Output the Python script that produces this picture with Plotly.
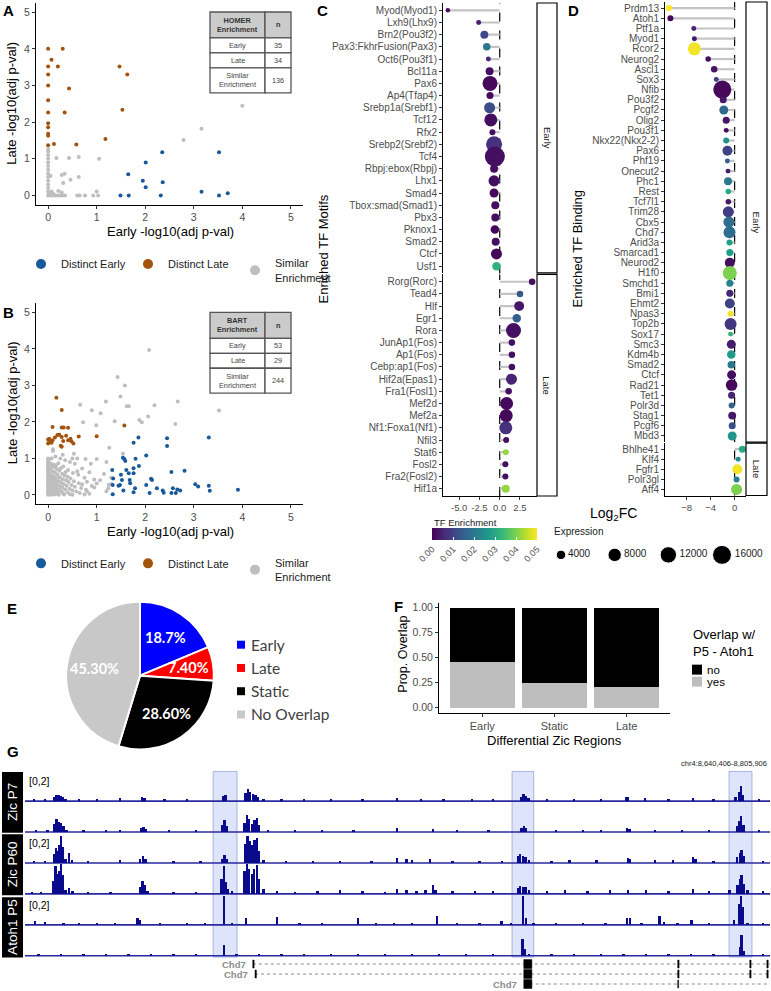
import plotly.graph_objects as go
import numpy as np

# ======================= DATA =======================
# ---- Panel A (HOMER): -log10 adj p-values
a_early_x = [2.35, 3.52, 2.01, 1.65, 1.95, 2.36, 2.01, 1.49, 1.66, 2.32, 3.16, 3.52, 3.70]
a_early_y = [1.18, 1.18, 0.90, 0.58, 0.40, 0.36, 0.22, 0.0, 0.0, 0.0, 0.10, 0.0, 0.06]
a_late_x = [0, 0.30, 0.07, 0, 0.20, 0, 0, 0.43, 0, 0, 0.34, 0, 0, 0, 0, 0.12, 0, 0.58, 1.47, 1.63, 1.53, 1.18]
a_late_y = [4.0, 4.0, 3.7, 3.52, 3.52, 3.3, 3.0, 2.92, 2.6, 2.26, 2.26, 1.97, 1.86, 1.68, 1.63, 1.40, 1.37, 1.39, 3.52, 3.3, 2.34, 1.54]
a_sim_x = [0, 0, 0, 0, 0, 0, 0, 0, 0, 0, 0, 0, 0, 0,
           0.05, 0.10, 0.15, 0.20, 0.25, 0.30, 0.35, 0.60, 0.65, 0.76, 0.93, 1.03,
           0.05, 0.34, 0.28, 0.46, 0.63, 0.31, 0.07, 0.21, 0.28, 1.00,
           0.17, 0.43, 0.63, 1.05, 2.79, 3.16, 4.00, 0.02, 0.10, 0.12]
a_sim_y = [1.27, 1.2, 1.1, 1.0, 0.9, 0.8, 0.7, 0.6, 0.5, 0.4, 0.3, 0.2, 0.1, 0.0,
           0, 0, 0, 0, 0, 0, 0, 0, 0, 0, 0, 0,
           0.53, 0.59, 0.56, 0.43, 0.50, 0.34, 0.11, 0.12, 0.08, 0.11,
           1.02, 1.02, 1.05, 1.00, 1.51, 1.82, 2.45, 0.05, 0.05, 0.02]

# ---- Panel B (BART)
b_early_x = [1.86, 1.76, 2.45, 2.45, 3.31, 1.57, 1.59, 1.54, 1.80, 2.02, 1.87, 1.76, 1.61, 1.32, 2.54,
             2.81, 1.34, 1.50, 1.66, 1.76, 1.33, 1.48, 1.45, 1.52, 1.68, 1.69, 2.12, 2.14, 2.02, 2.24,
             2.36, 2.57, 2.66, 2.72, 3.03, 3.09, 3.31, 3.33, 3.91, 1.33, 1.55, 1.79, 2.09, 2.38, 2.54,
             2.63, 1.76]
b_early_y = [1.57, 1.43, 1.55, 1.34, 1.57, 0.98, 0.93, 1.02, 0.99, 1.08, 0.79, 0.73, 0.68, 0.68, 0.63,
             0.66, 0.45, 0.55, 0.59, 0.59, 0.27, 0.27, 0.25, 0.41, 0.41, 0.32, 0.44, 0.41, 0.27, 0.18,
             0.12, 0.18, 0.15, 0.12, 0.29, 0.23, 0.25, 0.11, 0.14, 0.02, 0.12, 0.18, 0.05, 0.06, 0.05,
             0.05, 0.07]
b_late_x = [0.17, 0.28, 0.09, 0.28, 0.32, 0.41, 1.00, 1.57, 0.63, 0, 0.03, 0, 0.09, 0.14, 0.19, 0.23,
            0.28, 0.31, 0.37, 0.41, 0.46, 0.48, 0.52, 0.26, 0.28, 0.02, 0.07]
b_late_y = [2.66, 2.33, 1.86, 1.85, 1.85, 1.84, 1.61, 1.90, 1.60, 1.52, 1.47, 1.41, 1.50, 1.57, 1.64, 1.65,
            1.59, 1.48, 1.62, 1.50, 1.54, 1.47, 1.41, 1.35, 1.32, 1.54, 1.43]
b_sim_pts = [(2.08, 3.97), (1.43, 3.23), (1.58, 3.00), (1.49, 2.70), (1.19, 2.56), (2.67, 2.56), (0.66, 2.47),
             (2.19, 2.46), (1.62, 2.43), (1.66, 2.43), (0.90, 2.32), (1.08, 2.24), (3.52, 2.31), (2.06, 2.15),
             (0.72, 1.99), (0.99, 1.91), (1.37, 2.02), (1.88, 2.05), (1.93, 1.99), (2.62, 1.94), (1.26, 1.29),
             (1.54, 1.13), (0.10, 1.25), (0.53, 1.13), (0.10, 1.20), (0.15, 1.05), (0.25, 1.00), (0.35, 0.95),
             (0.50, 1.00), (0.60, 1.00), (0.77, 0.98), (1.00, 0.98), (0.88, 0.85), (1.20, 0.90), (0.30, 1.10),
             (0.45, 0.90), (0.55, 0.85), (0.07, 1.00), (0, 1.00), (0, 0.95), (0, 0.90), (0.60, 0.65), (1.30, 0.30),
             (0, 0.85), (0.05, 0.86), (0.11, 0.83), (0.21, 0.87), (0, 0.80), (0.08, 0.79), (0.16, 0.81),
             (0.31, 0.78), (0, 0.75), (0.04, 0.74), (0.13, 0.76), (0.26, 0.73), (0, 0.70), (0.06, 0.69),
             (0.18, 0.71), (0.41, 0.68), (0.70, 0.72), (0, 0.65), (0.10, 0.64), (0.23, 0.66), (0.36, 0.63),
             (0, 0.60), (0.03, 0.59), (0.14, 0.61), (0.29, 0.58), (0.51, 0.60), (0.85, 0.62), (0, 0.55),
             (0.07, 0.54), (0.19, 0.56), (0.34, 0.53), (0.62, 0.55), (1.15, 0.57), (0, 0.50), (0.05, 0.49),
             (0.12, 0.51), (0.24, 0.48), (0.40, 0.50), (0.75, 0.47), (0, 0.45), (0.09, 0.44), (0.17, 0.46),
             (0.30, 0.43), (0.46, 0.45), (0.95, 0.42), (1.30, 0.47), (0, 0.40), (0.04, 0.39), (0.13, 0.41),
             (0.22, 0.38), (0.37, 0.40), (0.53, 0.37), (1.07, 0.40), (0, 0.35), (0.08, 0.34), (0.16, 0.36),
             (0.27, 0.33), (0.42, 0.35), (0.63, 0.32), (0.80, 0.36), (0, 0.30), (0.03, 0.29), (0.11, 0.31),
             (0.20, 0.28), (0.32, 0.30), (0.48, 0.27), (0.70, 0.29), (1.00, 0.31), (1.25, 0.28), (0, 0.25),
             (0.06, 0.24), (0.15, 0.26), (0.25, 0.23), (0.38, 0.25), (0.55, 0.22), (0.90, 0.24), (0, 0.20),
             (0.02, 0.19), (0.10, 0.21), (0.18, 0.18), (0.29, 0.20), (0.44, 0.17), (0.68, 0.19), (0.95, 0.20),
             (1.24, 0.18), (0, 0.15), (0.05, 0.14), (0.13, 0.16), (0.23, 0.13), (0.35, 0.15), (0.50, 0.12),
             (0.78, 0.14), (0, 0.10), (0.03, 0.09), (0.09, 0.11), (0.17, 0.08), (0.27, 0.10), (0.40, 0.07),
             (0.58, 0.09), (0.80, 0.10), (1.20, 0.10), (0, 0.05), (0.04, 0.04), (0.12, 0.06), (0.20, 0.03),
             (0.30, 0.05), (0.45, 0.02), (0.65, 0.05), (0.85, 0.03), (0, 0.0), (0.02, 0.01), (0.07, 0.0),
             (0.14, 0.01), (0.22, 0.0), (0.33, 0.01), (0.50, 0.0), (0.75, 0.01)]

homer_cats = ["Early", "Late", "Similar<br>Enrichment"]
homer_n = [35, 34, 136]
bart_cats = ["Early", "Late", "Similar<br>Enrichment"]
bart_n = [53, 29, 244]

# ---- Panel C (HOMER motifs): log2FC, expression, TF enrichment
c_early_tf = ["Myod(Myod1)", "Lxh9(Lhx9)", "Brn2(Pou3f2)", "Pax3:FkhrFusion(Pax3)", "Oct6(Pou3f1)", "Bcl11a",
              "Pax6", "Ap4(Tfap4)", "Srebp1a(Srebf1)", "Tcf12", "Rfx2", "Srebp2(Srebf2)", "Tcf4",
              "Rbpj:ebox(Rbpj)", "Lhx1", "Smad4", "Tbox:smad(Smad1)", "Pbx3", "Pknox1", "Smad2", "Ctcf", "Usf1"]
c_early_fc = [-6.4, -2.6, -1.9, -1.6, -1.4, -1.25, -1.2, -1.2, -1.25, -1.1, -0.9, -0.7, -0.6, -0.7, -0.7,
              -0.7, -0.55, -0.55, -0.6, -0.5, -0.4, -0.4]
c_early_expr = [900, 1100, 2800, 2500, 1100, 2800, 10000, 2200, 5400, 7500, 1600, 11400, 17800, 2800, 5400,
                3600, 2800, 2800, 3200, 2800, 5400, 3200]
c_early_enr = [0.002, 0.004, 0.011, 0.020, 0.006, 0.002, 0.001, 0.001, 0.012, 0.002, 0.002, 0.007, 0.002,
               0.002, 0.002, 0.001, 0.002, 0.002, 0.001, 0.002, 0.001, 0.032]
c_late_tf = ["Rorg(Rorc)", "Tead4", "Hlf", "Egr1", "Rora", "JunAp1(Fos)", "Ap1(Fos)", "Cebp:ap1(Fos)",
             "Hif2a(Epas1)", "Fra1(Fosl1)", "Mef2d", "Mef2a", "Nf1:Foxa1(Nf1)", "Nfil3", "Stat6", "Fosl2",
             "Fra2(Fosl2)", "Hif1a"]
c_late_fc = [4.0, 2.5, 2.4, 2.1, 1.7, 1.5, 1.5, 1.5, 1.45, 1.1, 0.85, 0.8, 0.75, 0.8, 0.75, 0.7, 0.7, 0.75]
c_late_expr = [1900, 1900, 4400, 3200, 10000, 1900, 1900, 1900, 5400, 1900, 7500, 7500, 7500, 1600, 1600,
               1600, 1600, 2800]
c_late_enr = [0.002, 0.014, 0.003, 0.015, 0.002, 0.002, 0.002, 0.002, 0.005, 0.002, 0.001, 0.001, 0.007,
              0.002, 0.042, 0.002, 0.002, 0.042]

# ---- Panel D (BART binding)
d_early_tf = ["Prdm13", "Atoh1", "Ptf1a", "Myod1", "Rcor2", "Neurog2", "Ascl1", "Sox3", "Nfib", "Pou3f2",
              "Pcgf2", "Olig2", "Pou3f1", "Nkx22(Nkx2-2)", "Pax6", "Phf19", "Onecut2", "Phc1", "Rest",
              "Tcf7l1", "Trim28", "Cbx5", "Chd7", "Arid3a", "Smarcad1", "Neurod2", "H1f0", "Smchd1", "Bmi1",
              "Ehmt2", "Npas3", "Top2b", "Sox17", "Smc3", "Kdm4b", "Smad2", "Ctcf", "Rad21", "Tet1",
              "Polr3d", "Stag1", "Pcgf6", "Mbd3"]
d_early_fc = [-10.95, -10.7, -6.8, -6.7, -6.7, -4.4, -3.4, -3.05, -2.05, -1.9, -1.8, -1.4, -1.4, -1.4,
              -1.2, -1.2, -1.1, -1.1, -1.05, -1.05, -1.05, -0.95, -0.85, -0.85, -0.8, -0.8, -0.8, -0.8,
              -0.8, -0.8, -0.67, -0.67, -0.67, -0.55, -0.55, -0.55, -0.5, -0.5, -0.5, -0.5, -0.4, -0.4, -0.4]
d_early_expr = [1600, 1600, 1100, 1100, 7500, 1350, 1900, 1100, 14400, 2200, 3600, 2200, 1100, 1600, 4400,
                1100, 1100, 2800, 1350, 1350, 5400, 5400, 6400, 1600, 2200, 4400, 8700, 2200, 2200, 4400,
                1600, 6400, 1100, 3600, 3200, 2500, 3600, 5900, 2200, 1600, 2800, 2200, 3600]
d_early_enr = [0.050, 0.001, 0.005, 0.003, 0.049, 0.002, 0.003, 0.010, 0.001, 0.003, 0.017, 0.003, 0.002,
               0.025, 0.010, 0.015, 0.004, 0.020, 0.030, 0.003, 0.009, 0.018, 0.018, 0.028, 0.028, 0.002,
               0.040, 0.022, 0.005, 0.010, 0.049, 0.008, 0.032, 0.004, 0.027, 0.020, 0.002, 0.001, 0.005,
               0.016, 0.003, 0.012, 0.026]
d_late_tf = ["Bhlhe41", "Klf4", "Fgfr1", "Polr3gl", "Aff4"]
d_late_fc = [1.3, 0.6, 0.45, 0.33, 0.33]
d_late_expr = [2200, 1100, 4400, 1600, 5400]
d_late_enr = [0.030, 0.024, 0.049, 0.022, 0.040]

size_legend_vals = [4000, 8000, 12000, 16000]
enr_ticks = [0.00, 0.01, 0.02, 0.03, 0.04, 0.05]

# ---- Panel E (pie)
e_labels = ["Early", "Late", "Static", "No Overlap"]
e_values = [18.7, 7.4, 28.6, 45.3]
e_text = ["18.7%", "7.40%", "28.60%", "45.30%"]
e_colors = ["#0000FF", "#FF0000", "#000000", "#C8C8C8"]

# ---- Panel F (stacked proportions)
f_regions = ["Early", "Static", "Late"]
f_yes = [0.455, 0.245, 0.21]
f_no = [0.545, 0.755, 0.79]

# ---- Panel G (genome browser tracks, kb from window start; signal 0-2)
g_window_kb = 165.5
g_groups = ["Zic P7", "Zic P60", "Atoh1 P5"]
zic_p7_r1 = [(2.0, 0.1), (4.5, 0.1), (6.4, 0.3), (6.9, 0.4), (7.4, 0.41), (7.9, 0.38), (8.4, 0.3), (9.0, 0.15),
             (12.0, 0.08), (16.0, 0.1), (21.1, 0.2), (26.0, 0.28), (26.5, 0.2), (31.0, 0.1), (36.0, 0.08),
             (44.0, 0.35), (44.5, 0.41), (49.0, 0.55), (49.5, 0.83), (50.0, 0.6), (50.6, 0.48), (51.2, 0.45),
             (51.8, 0.3), (53.0, 0.12), (57.0, 0.1), (62.0, 0.08), (68.0, 0.1), (75.0, 0.1), (82.6, 0.2),
             (88.0, 0.1), (93.0, 0.1), (99.3, 0.14), (104.0, 0.1), (110.2, 0.3), (110.7, 0.48), (111.2, 0.38),
             (111.8, 0.2), (116.0, 0.1), (122.0, 0.1), (128.0, 0.12), (133.5, 0.28), (134.0, 0.25),
             (137.7, 0.2), (143.0, 0.12), (148.4, 0.2), (153.0, 0.1), (157.8, 0.3), (158.6, 0.6),
             (159.0, 1.03), (159.5, 0.45), (163.0, 0.1)]
zic_p7_r2 = [(2.5, 0.1), (5.0, 0.1), (6.5, 0.55), (7.0, 0.88), (7.5, 0.7), (8.0, 0.62), (8.5, 0.4), (9.2, 0.15),
             (13.0, 0.08), (18.0, 0.1), (21.1, 0.15), (25.8, 0.3), (26.3, 0.37), (26.8, 0.2), (32.0, 0.1),
             (38.0, 0.08), (43.8, 0.5), (44.3, 0.83), (44.8, 0.4), (48.8, 0.6), (49.3, 1.17), (49.8, 0.9),
             (50.4, 0.55), (51.0, 0.8), (51.5, 0.97), (52.0, 0.5), (54.0, 0.15), (60.0, 0.1), (66.0, 0.1),
             (73.0, 0.1), (82.6, 0.28), (90.6, 0.2), (96.0, 0.1), (103.0, 0.1), (110.3, 0.25), (110.8, 0.4),
             (111.3, 0.3), (118.0, 0.1), (124.0, 0.12), (128.0, 0.15), (133.7, 0.28), (134.3, 0.22),
             (140.0, 0.12), (146.0, 0.15), (152.0, 0.1), (158.2, 0.4), (158.7, 0.75), (159.1, 1.08),
             (159.6, 0.5), (163.0, 0.1)]
zic_p60_r1 = [(2.0, 0.12), (4.5, 0.1), (6.4, 0.6), (6.9, 1.03), (7.3, 0.83), (7.7, 1.2), (8.0, 1.86), (8.4, 1.1),
              (9.0, 0.3), (9.8, 0.69), (10.4, 0.2), (14.0, 0.1), (21.1, 0.2), (25.6, 0.3), (26.2, 0.48),
              (26.8, 0.3), (33.0, 0.1), (39.0, 0.1), (43.8, 0.3), (44.3, 0.55), (44.8, 0.3), (48.9, 1.3),
              (49.4, 1.86), (49.9, 1.5), (50.4, 1.24), (51.0, 1.6), (51.5, 1.72), (52.0, 0.8), (53.0, 0.2),
              (58.0, 0.1), (64.0, 0.12), (70.0, 0.1), (77.0, 0.12), (82.6, 0.35), (84.8, 0.25), (86.0, 0.2),
              (90.0, 0.25), (95.0, 0.12), (101.0, 0.12), (106.0, 0.15), (109.5, 0.45), (110.0, 0.62),
              (110.6, 0.5), (111.2, 0.4), (112.0, 0.2), (117.0, 0.15), (121.0, 0.2), (127.0, 0.2),
              (133.9, 0.35), (134.4, 0.3), (140.0, 0.2), (144.0, 0.2), (148.4, 0.41), (149.0, 0.3),
              (153.0, 0.15), (158.2, 0.4), (158.8, 0.65), (159.2, 0.88), (159.7, 0.5), (164.0, 0.15)]
zic_p60_r2 = [(1.5, 0.1), (3.5, 0.12), (6.3, 0.9), (6.8, 1.9), (7.3, 1.38), (7.7, 1.6), (8.0, 2.05), (8.4, 1.3),
              (9.0, 0.3), (9.8, 0.41), (10.5, 0.2), (14.0, 0.1), (19.0, 0.12), (25.6, 0.5), (26.1, 0.9),
              (26.6, 0.6), (27.2, 0.2), (33.0, 0.12), (38.0, 0.1), (43.7, 1.0), (44.2, 1.93), (44.7, 0.8),
              (45.1, 0.35), (46.0, 0.2), (48.8, 1.6), (49.3, 2.05), (49.8, 1.7), (50.4, 1.38), (50.9, 1.7),
              (51.5, 2.0), (52.0, 1.0), (53.0, 0.35), (56.0, 0.2), (60.0, 0.15), (65.0, 0.2), (70.0, 0.28),
              (75.0, 0.2), (80.0, 0.15), (82.6, 0.35), (84.8, 0.25), (87.0, 0.2), (89.0, 0.3), (90.6, 0.62),
              (91.2, 0.3), (95.0, 0.2), (100.0, 0.2), (104.0, 0.2), (109.5, 0.4), (110.0, 0.55), (110.6, 0.45),
              (111.2, 0.5), (112.0, 0.25), (116.0, 0.2), (120.0, 0.25), (125.0, 0.2), (130.0, 0.25),
              (134.0, 0.3), (138.0, 0.25), (143.0, 0.2), (148.4, 0.34), (152.0, 0.2), (156.5, 0.3),
              (158.3, 0.6), (158.8, 1.0), (159.2, 1.26), (159.7, 0.7), (160.5, 0.3), (164.0, 0.2)]
atoh1_p5_r1 = [(2.2, 0.28), (4.4, 0.2), (8.5, 0.12), (12.0, 0.1), (16.0, 0.12), (20.0, 0.1), (25.0, 0.48),
               (25.6, 0.35), (30.0, 0.1), (36.0, 0.12), (40.0, 0.1), (44.2, 2.0), (46.0, 0.15), (49.1, 0.48),
               (56.0, 0.55), (61.0, 0.1), (66.0, 0.12), (74.0, 0.48), (78.0, 0.1), (82.0, 0.12), (86.0, 0.15),
               (91.5, 0.62), (96.0, 0.12), (101.0, 0.1), (105.9, 0.28), (108.0, 0.15), (110.6, 2.0),
               (111.3, 0.48), (113.0, 0.15), (118.0, 0.1), (124.0, 0.12), (129.0, 0.1), (133.7, 0.48),
               (134.4, 0.45), (137.0, 0.15), (141.0, 0.62), (142.0, 0.2), (145.0, 0.15), (148.1, 0.34),
               (152.0, 0.12), (157.5, 0.3), (158.6, 1.4), (159.0, 2.0), (159.5, 1.2), (160.5, 0.15),
               (164.0, 0.1)]
atoh1_p5_r2 = [(3.0, 0.08), (8.0, 0.1), (13.0, 0.1), (18.0, 0.1), (23.0, 0.12), (28.0, 0.08), (33.0, 0.1),
               (38.0, 0.1), (44.2, 0.76), (47.0, 0.1), (52.0, 0.1), (57.0, 0.12), (62.0, 0.08), (68.0, 0.1),
               (74.0, 0.1), (80.0, 0.12), (86.0, 0.1), (92.0, 0.1), (98.0, 0.08), (104.0, 0.1), (110.5, 1.15),
               (111.1, 0.48), (112.0, 0.15), (117.0, 0.1), (122.0, 0.1), (128.0, 0.12), (133.0, 0.1),
               (138.0, 0.1), (143.0, 0.12), (148.0, 0.1), (153.0, 0.1), (158.8, 0.6), (159.2, 1.45),
               (159.7, 0.3), (164.0, 0.08)]
g_tracks = [zic_p7_r1, zic_p7_r2, zic_p60_r1, zic_p60_r2, atoh1_p5_r1, atoh1_p5_r2]
g_highlights = [(41.8, 47.1), (108.2, 113.0), (156.4, 161.5)]
g_gene_starts = [50.6, 51.1, 110.8]
g_gene_exons = [[(50.6, 50.9), (110.8, 112.6), (145.0, 145.3), (161.0, 161.3), (164.8, 165.1)],
                [(51.1, 51.4), (110.8, 112.6), (145.0, 145.3), (161.0, 161.3), (164.8, 165.1)],
                [(110.8, 112.6), (145.0, 145.2)]]

# ======================= HELPERS =======================
W, H = 771, 991
FONT = "Liberation Sans"
TICK = "#4D4D4D"
BLUE, BROWN, LGRAY = "#17599B", "#A4530C", "#BEBEBE"
NAVY = "#0A0A8C"


def fx(p):
    return p / W


def fy(p):
    return 1 - p / H


annotations, shapes = [], []


def ann(x, y, text, size=11, color="black", xanchor="center", yanchor="middle", bold=False, angle=0,
        family=FONT, align="center"):
    annotations.append(dict(x=fx(x), y=fy(y), xref="paper", yref="paper",
                            text=f"<b>{text}</b>" if bold else text, showarrow=False,
                            font=dict(size=size, color=color, family=family), xanchor=xanchor,
                            yanchor=yanchor, textangle=angle, align=align))


def rect(x0, y0, x1, y1, fill="white", line="black", lw=1.0, layer="above"):
    shapes.append(dict(type="rect", xref="paper", yref="paper", x0=fx(x0), x1=fx(x1), y0=fy(y1), y1=fy(y0),
                       fillcolor=fill, line=dict(color=line, width=lw), layer=layer))


def bubble(vals):
    return [0.15 * np.sqrt(v) for v in vals]


def axis(**kw):
    d = dict(showgrid=False, zeroline=False, showline=True, linecolor="black", linewidth=1, ticks="outside",
             ticklen=3, tickcolor="#333333", tickwidth=1, tickfont=dict(size=10.5, color=TICK, family=FONT))
    d.update(kw)
    return d


CATFONT = dict(size=10, color=TICK, family=FONT)

fig = go.Figure()

# ======================= PANELS A & B =======================
for xa, ya, ex, ey, lx, ly, sx, sy, leg in [
        ("x", "y", a_early_x, a_early_y, a_late_x, a_late_y, a_sim_x, a_sim_y, "legend"),
        ("x2", "y2", b_early_x, b_early_y, b_late_x, b_late_y,
         [p[0] for p in b_sim_pts], [p[1] for p in b_sim_pts], "legend2")]:
    fig.add_trace(go.Scatter(x=sx, y=sy, mode="markers", marker=dict(size=4, color=LGRAY),
                             xaxis=xa, yaxis=ya, showlegend=False, hoverinfo="skip"))
    fig.add_trace(go.Scatter(x=lx, y=ly, mode="markers", marker=dict(size=4, color=BROWN),
                             xaxis=xa, yaxis=ya, showlegend=False, hoverinfo="skip"))
    fig.add_trace(go.Scatter(x=ex, y=ey, mode="markers", marker=dict(size=4, color=BLUE),
                             xaxis=xa, yaxis=ya, showlegend=False, hoverinfo="skip"))
    for name, col in [("Distinct Early", BLUE), ("Distinct Late", BROWN), ("Similar<br>Enrichment", LGRAY)]:
        fig.add_trace(go.Scatter(x=[None], y=[None], mode="markers", marker=dict(size=10, color=col),
                                 name=name, legend=leg, xaxis=xa, yaxis=ya))


def draw_table(top, title, cats, ns):
    x0, xm, x1 = 210, 265, 291
    ys = [top, top + 26, top + 41, top + 56, top + 81]
    lc = "#555555"
    rect(x0, ys[0], xm, ys[1], fill="#CBCBCB", line=lc, lw=1.3)
    rect(xm, ys[0], x1, ys[1], fill="#CBCBCB", line=lc, lw=1.3)
    ann((x0 + xm) / 2, (ys[0] + ys[1]) / 2, title, 7.3, "#333333", bold=True)
    ann((xm + x1) / 2, (ys[0] + ys[1]) / 2, "n", 7.3, "#333333", bold=True)
    for i, (c, n) in enumerate(zip(cats, ns)):
        rect(x0, ys[i + 1], xm, ys[i + 2], fill="white", line=lc, lw=1.3)
        rect(xm, ys[i + 1], x1, ys[i + 2], fill="white", line=lc, lw=1.3)
        ann((x0 + xm) / 2, (ys[i + 1] + ys[i + 2]) / 2, c, 7.3, "#444444")
        ann((xm + x1) / 2, (ys[i + 1] + ys[i + 2]) / 2, str(n), 7.3, "#444444")


draw_table(11, "HOMER<br>Enrichment", homer_cats, homer_n)
draw_table(312, "BART<br>Enrichment", bart_cats, bart_n)

# ======================= PANELS C & D =======================
lolli = [("x3", "y3", c_early_tf, c_early_fc, c_early_expr, c_early_enr),
         ("x4", "y4", c_late_tf, c_late_fc, c_late_expr, c_late_enr),
         ("x5", "y5", d_early_tf, d_early_fc, d_early_expr, d_early_enr),
         ("x6", "y6", d_late_tf, d_late_fc, d_late_expr, d_late_enr)]
for xa, ya, tf, fc, ex, en in lolli:
    sx, sy = [], []
    for t, v in zip(tf, fc):
        sx += [0, v, None]
        sy += [t, t, None]
    fig.add_trace(go.Scatter(x=sx, y=sy, mode="lines", line=dict(color="#C4C4C4", width=2.2),
                             xaxis=xa, yaxis=ya, showlegend=False, hoverinfo="skip"))
    fig.add_trace(go.Scatter(x=fc, y=tf, mode="markers",
                             marker=dict(size=bubble(ex), color=en, coloraxis="coloraxis", line=dict(width=0),
                                         opacity=1),
                             xaxis=xa, yaxis=ya, showlegend=False, hoverinfo="skip", cliponaxis=False))
    shapes.append(dict(type="line", xref=xa, yref=f"{ya} domain", x0=0, x1=0, y0=0, y1=1,
                       line=dict(color="black", width=1.2, dash="dash"), layer="below"))

# size legend
fig.add_trace(go.Scatter(x=size_legend_vals, y=[0] * len(size_legend_vals), mode="markers+text",
                         marker=dict(size=bubble(size_legend_vals), color="black", opacity=1),
                         text=[str(v) for v in size_legend_vals], textposition="middle right",
                         textfont=dict(size=10, color="#1A1A1A", family=FONT),
                         xaxis="x9", yaxis="y14", showlegend=False, hoverinfo="skip", cliponaxis=False))

# strips
for (x0, y0, x1, y1, lab) in [(537, 2, 557, 272.5, "Early"), (537, 274, 557, 496, "Late"),
                              (746, 1, 767, 442, "Early"), (746, 443, 767, 495.5, "Late")]:
    rect(x0, y0, x1, y1, fill="white", line="black", lw=1.2)
    ann((x0 + x1) / 2, (y0 + y1) / 2, lab, 9.5, "#1A1A1A", angle=90)

# ======================= PANEL E =======================
fig.add_trace(go.Pie(values=e_values, labels=e_labels, sort=False, direction="clockwise", rotation=0,
                     marker=dict(colors=e_colors, line=dict(color="white", width=2)), textinfo="none",
                     domain=dict(x=[fx(66), fx(214)], y=[fy(750), fy(602)]), showlegend=False,
                     hoverinfo="skip"))
cx, cy, R = 140, 676, 74
cum, tot = 0.0, sum(e_values)
for v, t in zip(e_values, e_text):
    mid = (cum + v / 2) / tot * 2 * np.pi
    cum += v
    rr = 0.66 if v < 10 else 0.62
    ann(cx + rr * R * np.sin(mid), cy - rr * R * np.cos(mid), t, 14.5, "white", bold=True, family="Lato")
for i, (lab, col) in enumerate(zip(e_labels, e_colors)):
    yy = 645 + i * 23.3
    rect(237, yy - 4, 245, yy + 4, fill=col, line=col, lw=0)
    ann(249, yy, lab, 15.5, "#404040", xanchor="left", family="Lato")

# ======================= PANEL F =======================
fig.add_trace(go.Bar(x=f_regions, y=f_yes, width=0.9, marker=dict(color="#BEBEBE", line=dict(width=0)),
                     xaxis="x7", yaxis="y7", showlegend=False, hoverinfo="skip"))
fig.add_trace(go.Bar(x=f_regions, y=f_no, width=0.9, marker=dict(color="#000000", line=dict(width=0)),
                     xaxis="x7", yaxis="y7", showlegend=False, hoverinfo="skip"))
ann(691, 643, "Overlap w/<br>P5 - Atoh1", 13, "black", xanchor="left", align="left")
for i, (lab, col) in enumerate([("no", "#000000"), ("yes", "#BEBEBE")]):
    yy = 670 + i * 12
    rect(692, yy - 5, 702, yy + 5, fill=col, line=col, lw=0)
    ann(705, yy, lab, 11.5, "black", xanchor="left")

# ======================= PANEL G =======================
for (a, b) in g_highlights:
    shapes.append(dict(type="rect", xref="x8", yref="paper", x0=a, x1=b, y0=fy(958), y1=fy(772),
                       fillcolor="rgba(190,202,245,0.5)", line=dict(color="rgba(150,165,220,0.8)", width=1),
                       layer="below"))
g_base = [801.7 + 31 * i for i in range(6)]
for i, tr in enumerate(g_tracks):
    shapes.append(dict(type="line", xref="paper", yref="paper", x0=fx(25), x1=fx(770), y0=fy(g_base[i]),
                       y1=fy(g_base[i]), line=dict(color="#2A2AA0", width=1.6), layer="below"))
    fig.add_trace(go.Bar(x=[p[0] for p in tr], y=[p[1] for p in tr], width=0.55,
                         marker=dict(color=NAVY, line=dict(width=0)), xaxis="x8", yaxis=f"y{8 + i}",
                         showlegend=False, hoverinfo="skip"))
for i in (0, 2, 4):
    ann(27, g_base[i] - 20, "[0,2]", 10.5, "black", xanchor="left")
for (y0, y1), lab in zip([(772.5, 833.5), (835, 896), (898, 958.5)], g_groups):
    rect(2, y0, 23, y1, fill="black", line="black", lw=0)
    ann(12.5, (y0 + y1) / 2, lab, 13.5, "white", angle=-90)
ann(769, 764, "chr4:8,640,406-8,805,906", 7.5, "#222222", xanchor="right")
for j, (st, exons) in enumerate(zip(g_gene_starts, g_gene_exons)):
    yy = 965 + 10 * j
    shapes.append(dict(type="line", xref="x8", yref="paper", x0=st, x1=g_window_kb, y0=fy(yy), y1=fy(yy),
                       line=dict(color="#8A8A8A", width=1, dash="dot"), layer="above"))
    for (a, b) in exons:
        big = (b - a) > 1
        h = 4.5 if big else 4
        shapes.append(dict(type="rect", xref="x8", yref="paper", x0=a, x1=b, y0=fy(yy + h), y1=fy(yy - h),
                           fillcolor="black", line=dict(color="black", width=0.5), layer="above"))
    annotations.append(dict(x=st, y=fy(yy), xref="x8", yref="paper", text="<b>Chd7</b>", showarrow=False,
                            xanchor="right", yanchor="middle", xshift=-6, borderpad=0,
                            font=dict(size=9.5, color="#8C8C8C", family=FONT)))

# ======================= TEXT =======================
for lab, x, y in [("A", 8, 10), ("B", 8, 312), ("C", 322, 10), ("D", 573, 10), ("E", 12, 609),
                  ("F", 398, 607), ("G", 13, 752)]:
    ann(x, y, lab, 15, "black", bold=True)
ann(12, 103, "Late -log10(adj p-val)", 13, angle=-90)
ann(170, 231, "Early -log10(adj p-val)", 13)
ann(12, 403, "Late -log10(adj p-val)", 13, angle=-90)
ann(170, 532, "Early -log10(adj p-val)", 13)
ann(323, 249, "Enriched TF Motifs", 13, angle=-90)
ann(577, 248, "Enriched TF Binding", 13, angle=-90)
ann(613, 514, "Log<sub>2</sub>FC", 14)
ann(552, 532, "Expression", 10, "#1A1A1A", xanchor="left")
ann(432, 523, "TF Enrichment", 9.5, "#1A1A1A", xanchor="left")
ann(403, 655, "Prop. Overlap", 12.5, angle=-90)
ann(554, 741, "Differential Zic Regions", 13)


# ======================= LAYOUT =======================
def legend_cfg(ypix):
    return dict(orientation="h", x=fx(21), xanchor="left", y=fy(ypix), yanchor="middle",
                font=dict(size=11, color="#1A1A1A", family=FONT), bgcolor="rgba(0,0,0,0)", borderwidth=0,
                itemclick=False, itemdoubleclick=False, valign="middle", tracegroupgap=0,
                traceorder="normal", entrywidth=62, entrywidthmode="pixels")


layout = dict(
    width=W, height=H, margin=dict(l=0, r=0, t=0, b=0), paper_bgcolor="white", plot_bgcolor="white",
    font=dict(family=FONT), hovermode=False, barmode="stack", showlegend=True,
    legend=legend_cfg(270), legend2=legend_cfg(570),
    annotations=annotations, shapes=shapes,
    coloraxis=dict(colorscale="Viridis", cmin=0, cmax=0.05,
                   colorbar=dict(orientation="h", x=fx(484.5), xanchor="center", y=fy(528), yanchor="top",
                                 len=105, lenmode="pixels", thickness=12, thicknessmode="pixels",
                                 tickmode="array", tickvals=enr_ticks, ticktext=[f"{v:.2f}" for v in enr_ticks],
                                 tickangle=-45, tickfont=dict(size=9, color=TICK, family=FONT),
                                 ticks="inside", tickcolor="white", ticklen=3, outlinewidth=0, xpad=0, ypad=0)),
    xaxis=axis(domain=[fx(36), fx(303)], anchor="y", range=[-0.25, 5.25], tickvals=[0, 1, 2, 3, 4, 5]),
    yaxis=axis(domain=[fy(204), fy(2)], anchor="x", range=[-0.25, 5.25], tickvals=[0, 1, 2, 3, 4, 5]),
    xaxis2=axis(domain=[fx(36), fx(303)], anchor="y2", range=[-0.25, 5.25], tickvals=[0, 1, 2, 3, 4, 5]),
    yaxis2=axis(domain=[fy(504), fy(303)], anchor="x2", range=[-0.25, 5.25], tickvals=[0, 1, 2, 3, 4, 5]),
    xaxis3=dict(domain=[fx(443), fx(537)], anchor="y3", range=[-7.0, 4.6], showticklabels=False,
                showline=False, ticks="", showgrid=False, zeroline=False),
    yaxis3=axis(domain=[fy(273), fy(2)], anchor="x3", type="category", range=[len(c_early_tf) - 0.4, -0.6],
                tickmode="array", tickvals=c_early_tf, ticktext=c_early_tf, tickfont=CATFONT),
    xaxis4=axis(domain=[fx(443), fx(537)], anchor="y4", range=[-7.0, 4.6], tickvals=[-5, -2.5, 0, 2.5],
                ticktext=["-5.0", "-2.5", "0.0", "2.5"], tickfont=dict(size=9.5, color=TICK, family=FONT)),
    yaxis4=axis(domain=[fy(496), fy(274)], anchor="x4", type="category", range=[len(c_late_tf) - 0.4, -0.6],
                tickmode="array", tickvals=c_late_tf, ticktext=c_late_tf, tickfont=CATFONT),
    xaxis5=dict(domain=[fx(665), fx(746)], anchor="y5", range=[-11.6, 1.9], showticklabels=False,
                showline=False, ticks="", showgrid=False, zeroline=False),
    yaxis5=axis(domain=[fy(442), fy(1)], anchor="x5", type="category", range=[len(d_early_tf) - 0.4, -0.6],
                tickmode="array", tickvals=d_early_tf, ticktext=d_early_tf, tickfont=CATFONT),
    xaxis6=axis(domain=[fx(665), fx(746)], anchor="y6", range=[-11.6, 1.9], tickvals=[-8, -4, 0],
                tickfont=dict(size=9.5, color=TICK, family=FONT)),
    yaxis6=axis(domain=[fy(495.5), fy(443)], anchor="x6", type="category", range=[len(d_late_tf) - 0.4, -0.6],
                tickmode="array", tickvals=d_late_tf, ticktext=d_late_tf, tickfont=CATFONT),
    xaxis7=axis(domain=[fx(439), fx(670)], anchor="y7", type="category", range=[-0.6, 2.6],
                tickfont=dict(size=11, color=TICK, family=FONT)),
    yaxis7=axis(domain=[fy(713), fy(603)], anchor="x7", range=[-0.05, 1.05],
                tickvals=[0, 0.25, 0.5, 0.75, 1.0], ticktext=["0.00", "0.25", "0.50", "0.75", "1.00"],
                tickfont=dict(size=10.5, color=TICK, family=FONT)),
    xaxis8=dict(domain=[fx(25), fx(770)], anchor="y8", range=[0, g_window_kb], visible=False),
    xaxis9=dict(domain=[fx(561), fx(722)], anchor="y14", range=[4000, 16000], visible=False),
    yaxis14=dict(domain=[fy(565), fy(545)], anchor="x9", range=[-1, 1], visible=False),
)
for i in range(6):
    layout[f"yaxis{8 + i}"] = dict(domain=[fy(g_base[i]), fy(g_base[i] - 30)], anchor="x8", range=[0, 2.05],
                                   visible=False)
fig.update_layout(**layout)
fig.write_html("out.html", config={"displayModeBar": False},
               post_script="document.body.style.margin='0px';document.body.style.padding='0px';")
